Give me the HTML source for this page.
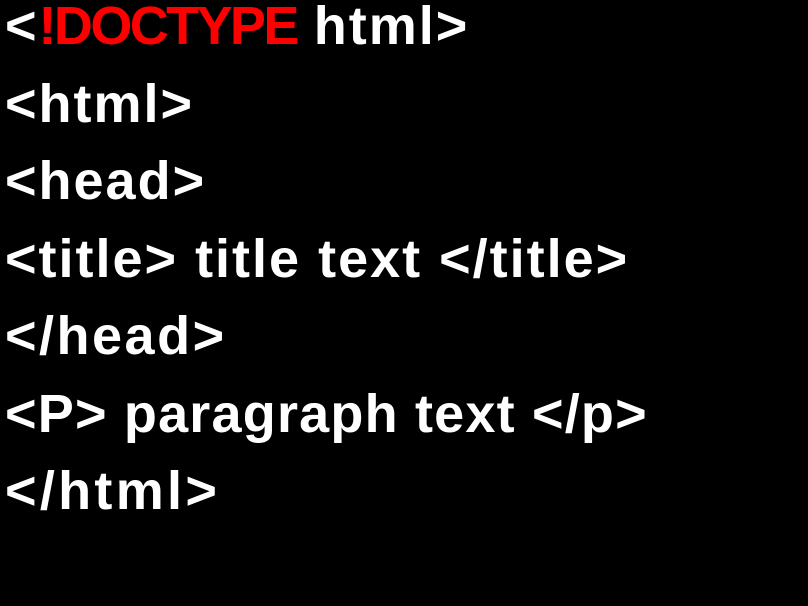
<!DOCTYPE html>
<html>
<head>
<style>
html,body{margin:0;padding:0;background:#000;width:808px;height:606px;overflow:hidden;}
.t{position:absolute;left:5px;top:-12px;font-family:"Liberation Sans",sans-serif;font-weight:bold;font-size:54px;line-height:77.5px;color:#fff;letter-spacing:2px;white-space:pre;}
.r{color:#ff0000;letter-spacing:-2.6px;}
.p{letter-spacing:1.2px;}
.h{letter-spacing:3.3px;}
.hd{letter-spacing:2.5px;}
</style>
</head>
<body>
<div class="t">&lt;<span class="r">!DOCTYPE</span> html&gt;
&lt;html&gt;
&lt;head&gt;
&lt;title&gt; title text &lt;/title&gt;
<span class="hd">&lt;/head&gt;</span>
<span class="p">&lt;P&gt; paragraph text &lt;/p&gt;</span>
<span class="h">&lt;/html&gt;</span></div>
</body>
</html>
